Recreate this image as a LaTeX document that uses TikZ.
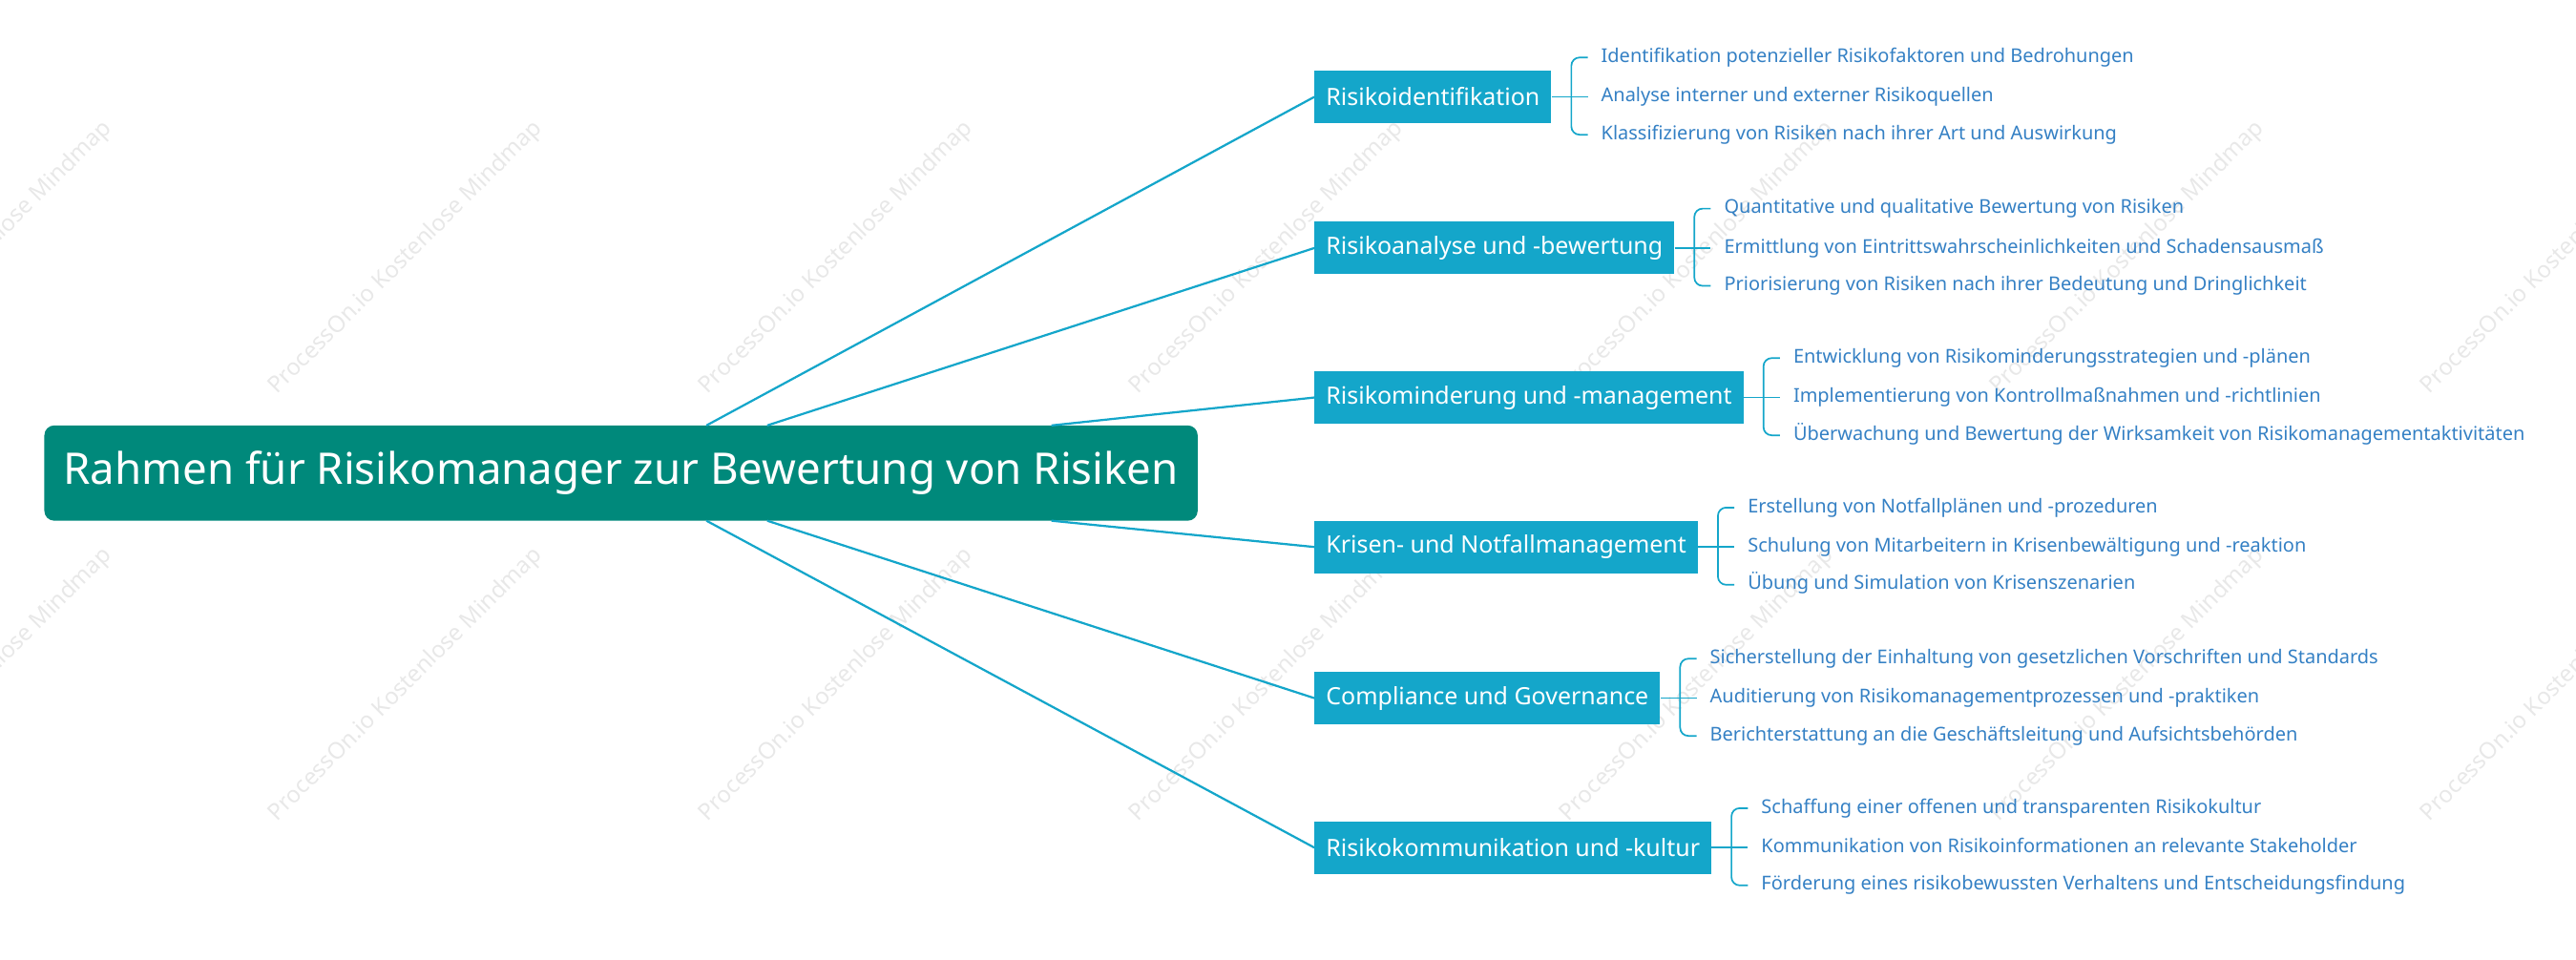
\documentclass[tikz,border=0pt]{standalone}
\usepackage{fontspec}
\setmainfont{Noto Sans}
\usetikzlibrary{positioning}
\definecolor{rootgreen}{RGB}{0,137,123}
\definecolor{branchblue}{RGB}{20,166,202}
\definecolor{leafblue}{RGB}{52,128,196}
\tikzset{
  root/.style={fill=rootgreen,text=white,rounded corners=6pt,minimum width=702pt,minimum height=58pt,font=\fontsize{26.5}{30}\selectfont},
  branch/.style={fill=branchblue,text=white,anchor=west,minimum height=32pt,inner xsep=7pt,font=\fontsize{14.5}{17}\selectfont},
  leaf/.style={text=leafblue,anchor=west,inner sep=0pt,text height=9pt,text depth=3pt,font=\fontsize{11.6}{14}\selectfont},
  link/.style={draw=branchblue,line width=1.3pt},
  wmark/.style={text=black!9,rotate=45,font=\fontsize{14}{16}\selectfont}
}
\begin{document}
\begin{tikzpicture}[x=1pt,y=1pt]
\useasboundingbox (0,0) rectangle (1568,-584);
% watermarks
\foreach \wx in {-15,247,509,771,1033,1295,1557}
  \foreach \wy in {-157,-417}
    \node[wmark] at (\wx,\wy) {ProcessOn.io Kostenlose Mindmap};
% root
\node[root] (root) at (378,-288) {Rahmen für Risikomanager zur Bewertung von Risiken};
% branches
\node[branch] (b1) at (800,-59) {Risikoidentifikation};
\node[branch] (b2) at (800,-151) {Risikoanalyse und -bewertung};
\node[branch] (b3) at (800,-242) {Risikominderung und -management};
\node[branch] (b4) at (800,-333) {Krisen- und Notfallmanagement};
\node[branch] (b5) at (800,-425) {Compliance und Governance};
\node[branch] (b6) at (800,-516) {Risikokommunikation und -kultur};
\coordinate (r1) at (430,-259);
\coordinate (r2) at (467,-259);
\coordinate (r3) at (640,-259);
\coordinate (r4) at (640,-317);
\coordinate (r5) at (467,-317);
\coordinate (r6) at (430,-317);
\foreach \i in {1,...,6} \draw[link] (r\i) -- (b\i.west);
% leaves
\node[leaf] (l11) at ([xshift=30pt,yshift=24pt]b1.east) {Identifikation potenzieller Risikofaktoren und Bedrohungen};
\node[leaf] (l12) at ([xshift=30pt]b1.east) {Analyse interner und externer Risikoquellen};
\node[leaf] (l13) at ([xshift=30pt,yshift=-23pt]b1.east) {Klassifizierung von Risiken nach ihrer Art und Auswirkung};
\node[leaf] (l21) at ([xshift=30pt,yshift=24pt]b2.east) {Quantitative und qualitative Bewertung von Risiken};
\node[leaf] (l22) at ([xshift=30pt]b2.east) {Ermittlung von Eintrittswahrscheinlichkeiten und Schadensausmaß};
\node[leaf] (l23) at ([xshift=30pt,yshift=-23pt]b2.east) {Priorisierung von Risiken nach ihrer Bedeutung und Dringlichkeit};
\node[leaf] (l31) at ([xshift=30pt,yshift=24pt]b3.east) {Entwicklung von Risikominderungsstrategien und -plänen};
\node[leaf] (l32) at ([xshift=30pt]b3.east) {Implementierung von Kontrollmaßnahmen und -richtlinien};
\node[leaf] (l33) at ([xshift=30pt,yshift=-23pt]b3.east) {Überwachung und Bewertung der Wirksamkeit von Risikomanagementaktivitäten};
\node[leaf] (l41) at ([xshift=30pt,yshift=24pt]b4.east) {Erstellung von Notfallplänen und -prozeduren};
\node[leaf] (l42) at ([xshift=30pt]b4.east) {Schulung von Mitarbeitern in Krisenbewältigung und -reaktion};
\node[leaf] (l43) at ([xshift=30pt,yshift=-23pt]b4.east) {Übung und Simulation von Krisenszenarien};
\node[leaf] (l51) at ([xshift=30pt,yshift=24pt]b5.east) {Sicherstellung der Einhaltung von gesetzlichen Vorschriften und Standards};
\node[leaf] (l52) at ([xshift=30pt]b5.east) {Auditierung von Risikomanagementprozessen und -praktiken};
\node[leaf] (l53) at ([xshift=30pt,yshift=-23pt]b5.east) {Berichterstattung an die Geschäftsleitung und Aufsichtsbehörden};
\node[leaf] (l61) at ([xshift=30pt,yshift=24pt]b6.east) {Schaffung einer offenen und transparenten Risikokultur};
\node[leaf] (l62) at ([xshift=30pt]b6.east) {Kommunikation von Risikoinformationen an relevante Stakeholder};
\node[leaf] (l63) at ([xshift=30pt,yshift=-23pt]b6.east) {Förderung eines risikobewussten Verhaltens und Entscheidungsfindung};
% brackets
\foreach \i in {1,...,6} {
  \draw[link,line width=1pt,rounded corners=5pt] ([xshift=-8pt]l\i1.west) -| ([xshift=12pt]b\i.east) |- ([xshift=-8pt]l\i3.west);
  \draw[link,line width=1pt] (b\i.east) -- ([xshift=-8pt]l\i2.west);
}
\end{tikzpicture}
\end{document}
